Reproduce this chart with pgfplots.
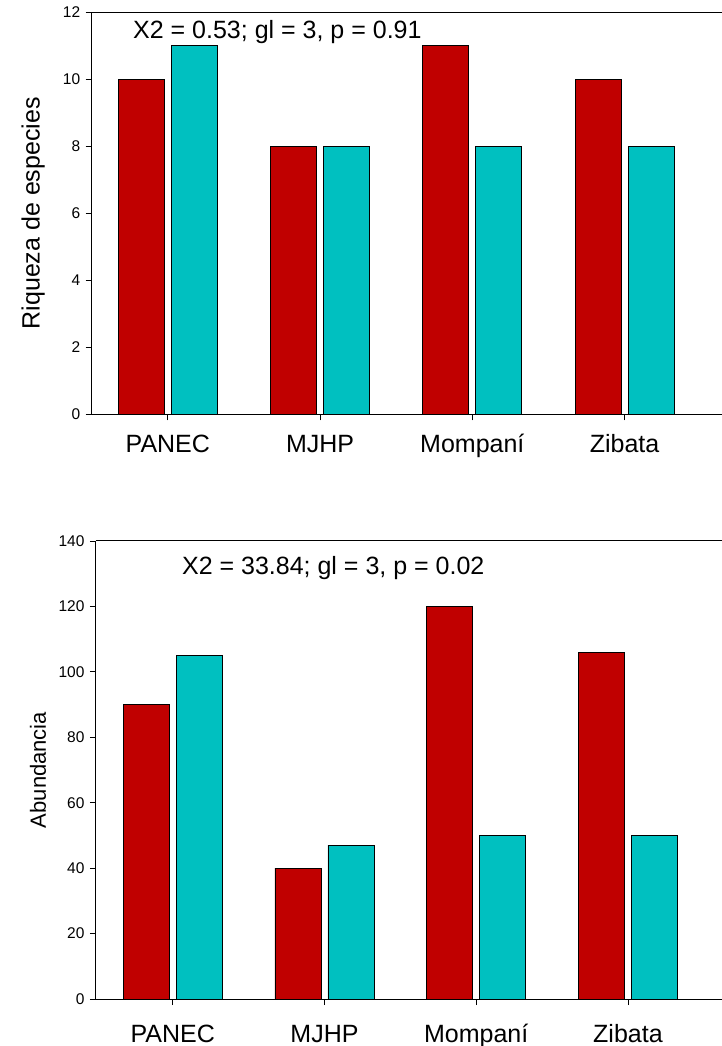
\documentclass[border=0pt]{standalone}
\usepackage{fontspec}
\setmainfont{Liberation Sans}
\usepackage{pgfplots}
\pgfplotsset{compat=1.18}
\definecolor{barred}{RGB}{192,0,0}
\definecolor{barcyan}{RGB}{0,192,192}
\begin{document}
\begin{tikzpicture}
\path[use as bounding box] (0,0) rectangle (722pt,1046pt);
\pgfplotsset{
  mystyle/.style={
    scale only axis,
    axis x line*=box, axis y line*=left,
    xtick={0,1,2,3},
    xticklabels={PANEC,MJHP,Mompaní,Zibata},
    xtick pos=left, ytick pos=left,
    tick align=outside,
    major tick length=6pt,
    ybar, bar width=46pt,
    axis line style={line width=1pt},
    tick style={line width=0.8pt, black},
    /pgf/number format/assume math mode=true,
    yticklabel style={font=\fontsize{15.5}{15.5}\selectfont, xshift=-2pt},
    ymin=0,
    clip=false,
  }
}
\begin{axis}[mystyle, at={(91.7pt,631.7pt)}, anchor=south west,
  width=630.3pt, height=402pt, xmin=-0.5, xmax=3.64, ymax=12,
  ytick={0,2,...,12},
  xticklabel style={font=\fontsize{25}{25}\selectfont, anchor=base, yshift=-32pt},
  every axis y label/.style={at={(axis description cs:-0.093,0.5)}, rotate=90, anchor=center},
  ylabel={Riqueza de especies}, ylabel style={font=\fontsize{25}{25}\selectfont}]
\addplot[fill=barred, draw=black, line width=0.8pt, bar shift=-26.5pt] coordinates {(0,10) (1,8) (2,11) (3,10)};
\addplot[fill=barcyan, draw=black, line width=0.8pt, bar shift=26.5pt] coordinates {(0,11) (1,8) (2,8) (3,8)};
\node[anchor=west, inner sep=0pt, font=\fontsize{25}{25}\selectfont] at (axis cs:-0.229,11.42) {X2 = 0.53; gl = 3, p = 0.91};
\end{axis}
\begin{axis}[mystyle, at={(96pt,47pt)}, anchor=south west,
  width=626pt, height=458pt, xmin=-0.506, xmax=3.62, ymax=140,
  ytick={0,20,...,140},
  xticklabel style={font=\fontsize{25}{25}\selectfont, anchor=base, yshift=-37pt},
  every axis y label/.style={at={(axis description cs:-0.0927,0.5)}, rotate=90, anchor=center},
  ylabel={Abundancia}, ylabel style={font=\fontsize{22}{22}\selectfont}]
\addplot[fill=barred, draw=black, line width=0.8pt, bar shift=-26.5pt] coordinates {(0,90) (1,40) (2,120) (3,106)};
\addplot[fill=barcyan, draw=black, line width=0.8pt, bar shift=26.5pt] coordinates {(0,105) (1,47) (2,50) (3,50)};
\node[anchor=west, inner sep=0pt, font=\fontsize{25}{25}\selectfont] at (axis cs:0.06,131.7) {X2 = 33.84; gl = 3, p = 0.02};
\end{axis}
\end{tikzpicture}
\end{document}
